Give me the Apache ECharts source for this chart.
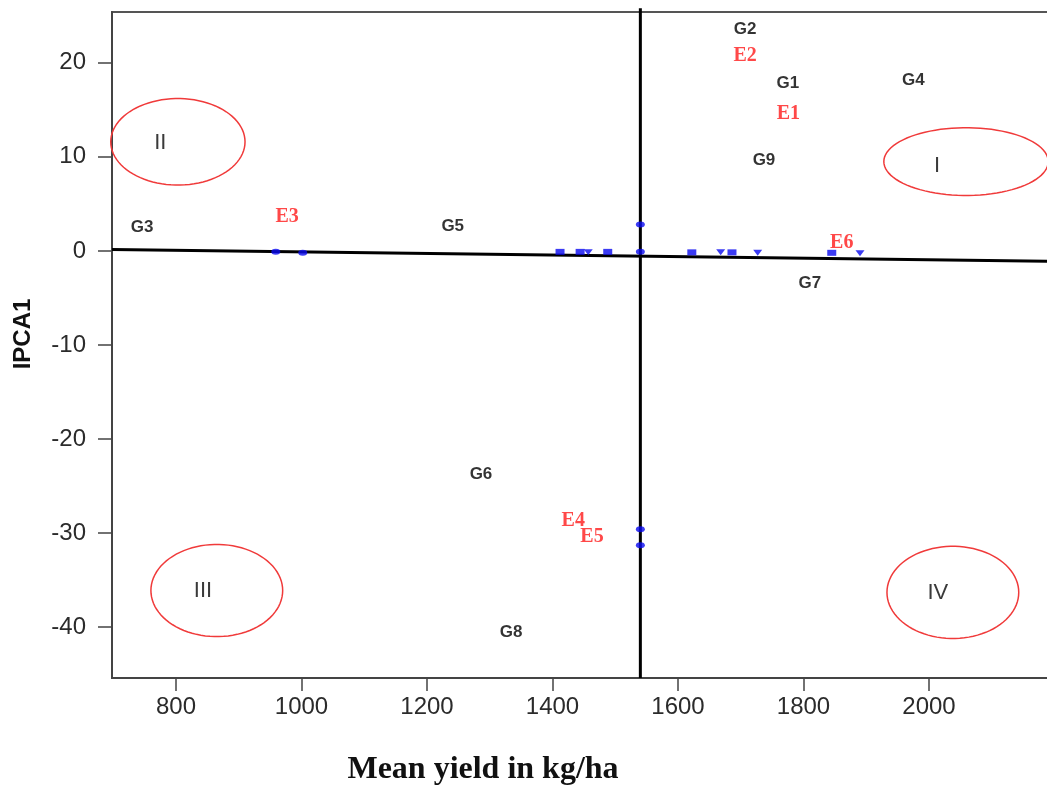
<!DOCTYPE html>
<html>
<head>
<meta charset="utf-8">
<script src="https://cdn.jsdelivr.net/npm/echarts@6/dist/echarts.min.js"></script>
<style>
  html, body { margin: 0; padding: 0; background: #fff; }
  #chart { width: 1047px; height: 790px; }
</style>
</head>
<body>
<div id="chart"></div>
<script>
const xTicks = [800, 1000, 1200, 1400, 1600, 1800, 2000]
const yTicks = [-40, -30, -20, -10, 0, 10, 20]

// blue biplot markers
const pointX = [959, 1002, 1412, 1444, 1457, 1488, 1540, 1540, 1622, 1668, 1686, 1727, 1845, 1890, 1540, 1540]
const pointY = [-0.1, -0.2, -0.1, -0.1, -0.15, -0.1, -0.1, 2.8, -0.15, -0.15, -0.15, -0.2, -0.2, -0.25, -29.6, -31.3]
const pointShape = ['circle', 'circle', 'rect', 'rect', 'triangle', 'rect', 'circle', 'circle', 'rect', 'triangle', 'rect', 'triangle', 'rect', 'triangle', 'circle', 'circle']

// genotype labels
const genoNames = ['G1', 'G2', 'G3', 'G4', 'G5', 'G6', 'G7', 'G8', 'G9']
const genoX = [1775, 1707, 746, 1975, 1241, 1286, 1810, 1334, 1737]
const genoY = [17.8, 23.6, 2.55, 18.1, 2.6, -23.7, -3.4, -40.5, 9.6]

// environment labels
const envNames = ['E1', 'E2', 'E3', 'E4', 'E5', 'E6']
const envX = [1776, 1707, 977, 1433, 1463, 1861]
const envY = [14.6, 20.7, 3.6, -28.7, -30.4, 0.85]

// quadrant ellipses
const quadNames = ['I', 'II', 'III', 'IV']
const quadX = [2059, 803, 865, 2038]
const quadY = [9.5, 11.6, -36.1, -36.3]
const quadRx = [131, 107, 105, 105]
const quadRy = [3.6, 4.6, 4.9, 4.9]
const quadLabelX = [2013, 775, 843, 2014]
const quadLabelY = [9.0, 11.5, -36.1, -36.4]

// reference lines
const hLineX = [698, 2196]
const hLineY = [0.15, -1.1]
const vLineX = [1540, 1540]
const vLineY = [-45.4, 25.8]

const chart = echarts.init(document.getElementById('chart'), null, { renderer: 'canvas' })

const axisCol = '#444'

const option = {
    animation: false,
    grid: {
        left: 112, width: 940, top: 12, bottom: 112,
        outerBoundsMode: 'none', containLabel: false,
        show: true, borderColor: '#555', borderWidth: 2,
    },
    xAxis: {
        type: 'value', min: 698, max: 2196,
        splitLine: { show: false },
        axisLine: { show: true, onZero: false, lineStyle: { color: axisCol, width: 2 } },
        axisTick: { show: true, length: 13, lineStyle: { color: axisCol, width: 1.5 }, customValues: xTicks },
        axisLabel: {
            customValues: xTicks, margin: 17, color: '#2b2b2b',
            fontSize: 24, fontFamily: 'Liberation Sans',
            formatter: v => String(v),
        },
    },
    yAxis: {
        type: 'value', min: -45.4, max: 25.4,
        splitLine: { show: false },
        axisLine: { show: true, onZero: false, lineStyle: { color: axisCol, width: 2 } },
        axisTick: { show: true, length: 14, lineStyle: { color: axisCol, width: 1.5 }, customValues: yTicks },
        axisLabel: {
            customValues: yTicks, margin: 26, color: '#2b2b2b',
            fontSize: 24, fontFamily: 'Liberation Sans',
            formatter: v => String(v),
        },
    },
    graphic: [
        {
            type: 'text', x: 483, y: 770,
            style: {
                text: 'Mean yield in kg/ha', fill: '#111',
                font: 'bold 32px "Liberation Serif"',
                textAlign: 'center', textVerticalAlign: 'middle',
            },
        },
        {
            type: 'text', x: 23, y: 334, rotation: Math.PI / 2,
            style: {
                text: 'IPCA1', fill: '#111',
                font: 'bold 24px "Liberation Sans"',
                textAlign: 'center', textVerticalAlign: 'middle',
            },
        },
    ],
    series: [
        {
            type: 'custom',
            z: 1,
            data: quadNames.map((n, i) => [quadX[i], quadY[i], quadRx[i], quadRy[i], quadLabelX[i], quadLabelY[i]]),
            renderItem: (params, api) => {
                const c = api.coord([api.value(0), api.value(1)])
                const s = api.size([api.value(2), api.value(3)])
                const pts = []
                for (let k = 0; k < 90; k++) {
                    const t = k / 90 * Math.PI * 2
                    pts.push([c[0] + s[0] * Math.cos(t), c[1] + s[1] * Math.sin(t)])
                }
                const l = api.coord([api.value(4), api.value(5)])
                return {
                    type: 'group',
                    children: [
                        { type: 'polygon', shape: { points: pts }, style: { fill: 'none', stroke: '#f03a3a', lineWidth: 1.5 } },
                        {
                            type: 'text', x: l[0], y: l[1],
                            style: {
                                text: quadNames[params.dataIndex], fill: '#3a3a3a',
                                fontSize: 22, fontFamily: 'Liberation Sans',
                                align: 'center', verticalAlign: 'middle',
                            },
                        },
                    ],
                }
            },
        },
        {
            type: 'line', z: 2, symbol: 'none', silent: true,
            data: hLineX.map((x, i) => [x, hLineY[i]]),
            lineStyle: { color: '#000', width: 3 },
        },
        {
            type: 'line', z: 2, symbol: 'none', silent: true, clip: false,
            data: vLineX.map((x, i) => [x, vLineY[i]]),
            lineStyle: { color: '#000', width: 3 },
        },
        {
            type: 'scatter', z: 3,
            data: pointX.map((x, i) => ({
                value: [x, pointY[i]],
                symbol: pointShape[i],
                symbolRotate: pointShape[i] === 'triangle' ? 180 : 0,
            })),
            symbolSize: [9, 6],
            itemStyle: { color: '#0a0af0' },
        },
        {
            type: 'scatter', z: 4, symbolSize: 1,
            data: genoNames.map((n, i) => [genoX[i], genoY[i], n]),
            itemStyle: { color: 'rgba(0,0,0,0)' },
            label: {
                show: true, position: 'inside', formatter: p => p.value[2],
                color: '#000', fontSize: 17, fontWeight: 'bold', fontFamily: 'Liberation Sans',
            },
        },
        {
            type: 'scatter', z: 4, symbolSize: 1,
            data: envNames.map((n, i) => [envX[i], envY[i], n]),
            itemStyle: { color: 'rgba(0,0,0,0)' },
            label: {
                show: true, position: 'inside', formatter: p => p.value[2],
                color: '#ff1a1a', fontSize: 20, fontWeight: 'bold', fontFamily: 'Liberation Serif',
            },
        },
    ],
}

chart.setOption(option)
</script>
</body>
</html>
